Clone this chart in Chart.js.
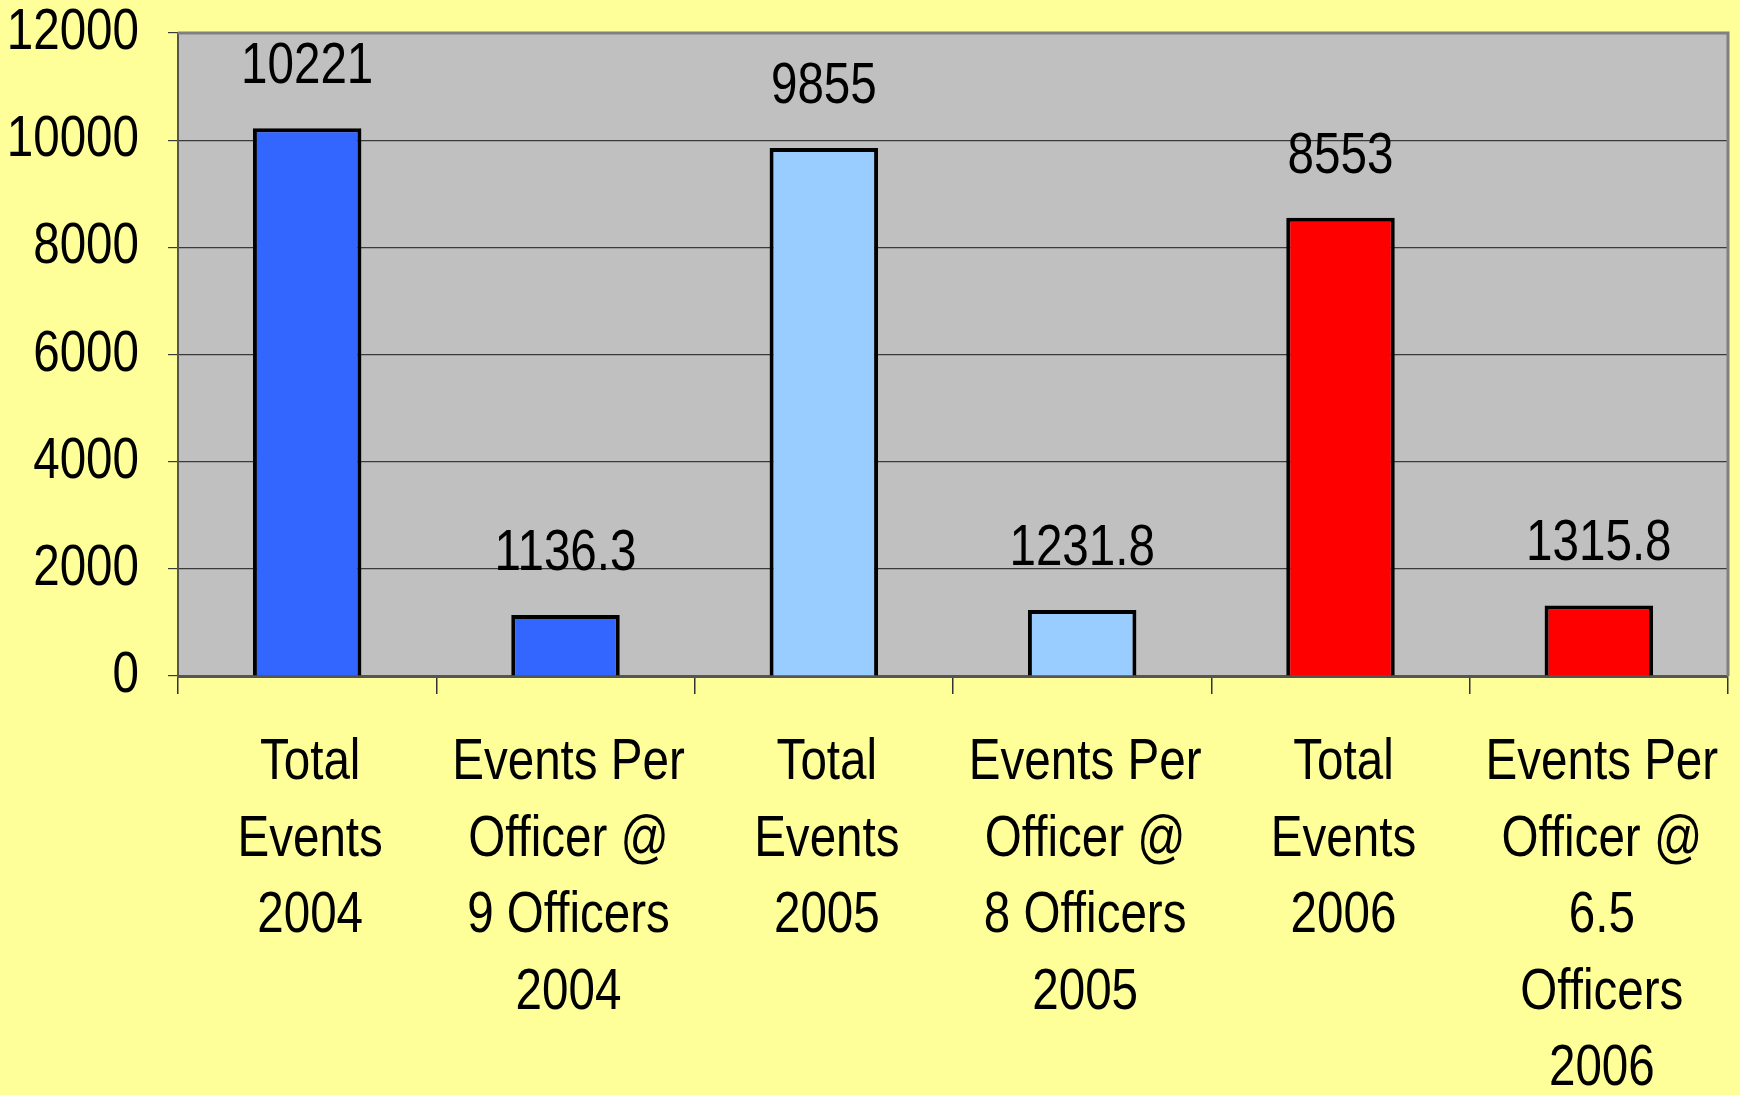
<!DOCTYPE html>
<html lang="en">
<head>
  <meta charset="UTF-8">
  <title>Events Per Officer</title>
  <script src="https://cdn.jsdelivr.net/npm/chart.js"></script>
  <style>
    body { margin: 0; background: #ffff99; overflow: hidden; }
    canvas { display: block; }
  </style>
</head>
<body>
  <canvas id="eventsChart" width="1740" height="1095"></canvas>
  <script>
    const categories = [
      ['Total', 'Events', '2004'],
      ['Events Per', 'Officer @', '9 Officers', '2004'],
      ['Total', 'Events', '2005'],
      ['Events Per', 'Officer @', '8 Officers', '2005'],
      ['Total', 'Events', '2006'],
      ['Events Per', 'Officer @', '6.5', 'Officers', '2006']
    ];
    const eventValues = [10221, 1136.3, 9855, 1231.8, 8553, 1315.8];
    const barColors = ['#3366ff', '#3366ff', '#99ccff', '#99ccff', '#ff0000', '#ff0000'];
    const yTicks = [0, 2000, 4000, 6000, 8000, 10000, 12000];

    // no narrow font installed, so text is squeezed by hand
    const FONT = "58px 'Liberation Sans', Arial, sans-serif";
    const SQUEEZE = 0.82;

    function narrowText(c, txt, x, y, align) {
      c.save();
      c.translate(x, y);
      c.scale(SQUEEZE, 1);
      c.textAlign = align;
      c.fillText(txt, 0, 0);
      c.restore();
    }

    const plotArea = {
      id: 'plotArea',
      beforeDraw(chart) {
        const a = chart.chartArea, c = chart.ctx;
        c.save();
        c.fillStyle = '#c0c0c0';
        c.fillRect(a.left, a.top, a.right - a.left, a.bottom - a.top);
        c.restore();
      },
      afterDraw(chart) {
        const a = chart.chartArea, c = chart.ctx;
        const xs = chart.scales.x, ys = chart.scales.y;
        c.save();
        c.strokeStyle = '#808080';
        c.lineWidth = 3;
        c.beginPath();
        c.moveTo(a.left, a.top);
        c.lineTo(a.right, a.top);
        c.lineTo(a.right, a.bottom);
        c.stroke();

        c.fillStyle = '#000';
        c.font = FONT;
        c.textBaseline = 'middle';
        // value labels
        chart.getDatasetMeta(0).data.forEach((bar, i) => {
          narrowText(c, String(eventValues[i]), bar.x, bar.y - 61, 'center');
        });
        // y tick labels
        yTicks.forEach(v => {
          narrowText(c, String(v), a.left - 39, ys.getPixelForValue(v), 'right');
        });
        // category labels
        categories.forEach((lines, i) => {
          const x = xs.getPixelForValue(i);
          lines.forEach((ln, k) => {
            narrowText(c, ln, x + 3, a.bottom + 87 + k * 76.6, 'center');
          });
        });
        c.restore();
      }
    };

    new Chart(document.getElementById('eventsChart'), {
      type: 'bar',
      data: {
        labels: categories,
        datasets: [{
          data: eventValues,
          backgroundColor: barColors,
          borderColor: '#000',
          borderWidth: 4,
          categoryPercentage: 1,
          barPercentage: 0.42
        }]
      },
      options: {
        responsive: false,
        animation: false,
        layout: { padding: { top: 33, right: 12 } },
        plugins: { legend: { display: false }, tooltip: { enabled: false } },
        scales: {
          x: {
            grid: { drawOnChartArea: false, tickLength: 18, color: '#333', lineWidth: 1.5 },
            border: { color: '#555', width: 3 },
            ticks: { display: false },
            afterFit(scale) { scale.height = 419; }
          },
          y: {
            min: 0, max: 12000,
            afterBuildTicks(scale) { scale.ticks = yTicks.map(v => ({ value: v })); },
            grid: { color: '#3a3a3a', lineWidth: 1.2, tickLength: 10 },
            border: { color: '#555', width: 2 },
            ticks: { display: false },
            afterFit(scale) { scale.width = 178; }
          }
        }
      },
      plugins: [plotArea]
    });
  </script>
</body>
</html>
